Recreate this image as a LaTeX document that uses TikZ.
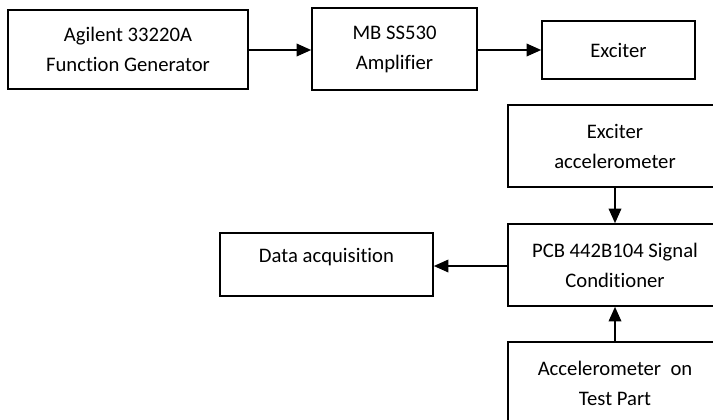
\documentclass[tikz,border=0pt]{standalone}
\usepackage{fontspec}
\setmainfont[Ligatures=NoCommon]{Carlito}
\usetikzlibrary{arrows.meta,positioning}

\begin{document}
\begin{tikzpicture}[x=0.75pt, y=-0.75pt, >={Triangle[length=11pt,width=9.5pt]}, ->, line width=1.2pt,
    block/.style={draw, rectangle, align=center, inner sep=0pt,
      font=\fontsize{15.5}{22.5}\selectfont}]
      \clip (0,0) rectangle (713,419);
      \node [block, minimum width=180pt, minimum height=59.25pt] (fg) at (128,49.5) {Agilent 33220A\\Function Generator};
      \node [block, minimum width=123.75pt, minimum height=61.5pt] (amp) at (394.5,49) {MB SS530\\Amplifier};
      \node [block, minimum width=114.75pt, minimum height=43.5pt] (exc) at (618.5,50) {Exciter};
      \node [block, minimum width=160.5pt, minimum height=61.5pt] (excacc) at (615,146) {Exciter\\accelerometer};
      \node [block, minimum width=160.5pt, minimum height=61.5pt] (pcb) at (615,265) {PCB 442B104 Signal\\Conditioner};
      \node [block, minimum width=160.5pt, minimum height=61.5pt] (testacc) at (615,383) {Accelerometer\ \ on\\Test Part};
      \node [block, minimum width=159.75pt, minimum height=47.25pt, text depth=13pt] (daq) at (326.5,264.5) {Data acquisition};
      \path
      (fg.east |- 0,50) edge (amp.west |- 0,50)
      (amp.east |- 0,50) edge (exc.west |- 0,50)
      (excacc) edge (pcb)
      (testacc) edge (pcb)
      (pcb.west |- 0,266) edge (daq.east |- 0,266)
      ;
  \end{tikzpicture}
\end{document}
